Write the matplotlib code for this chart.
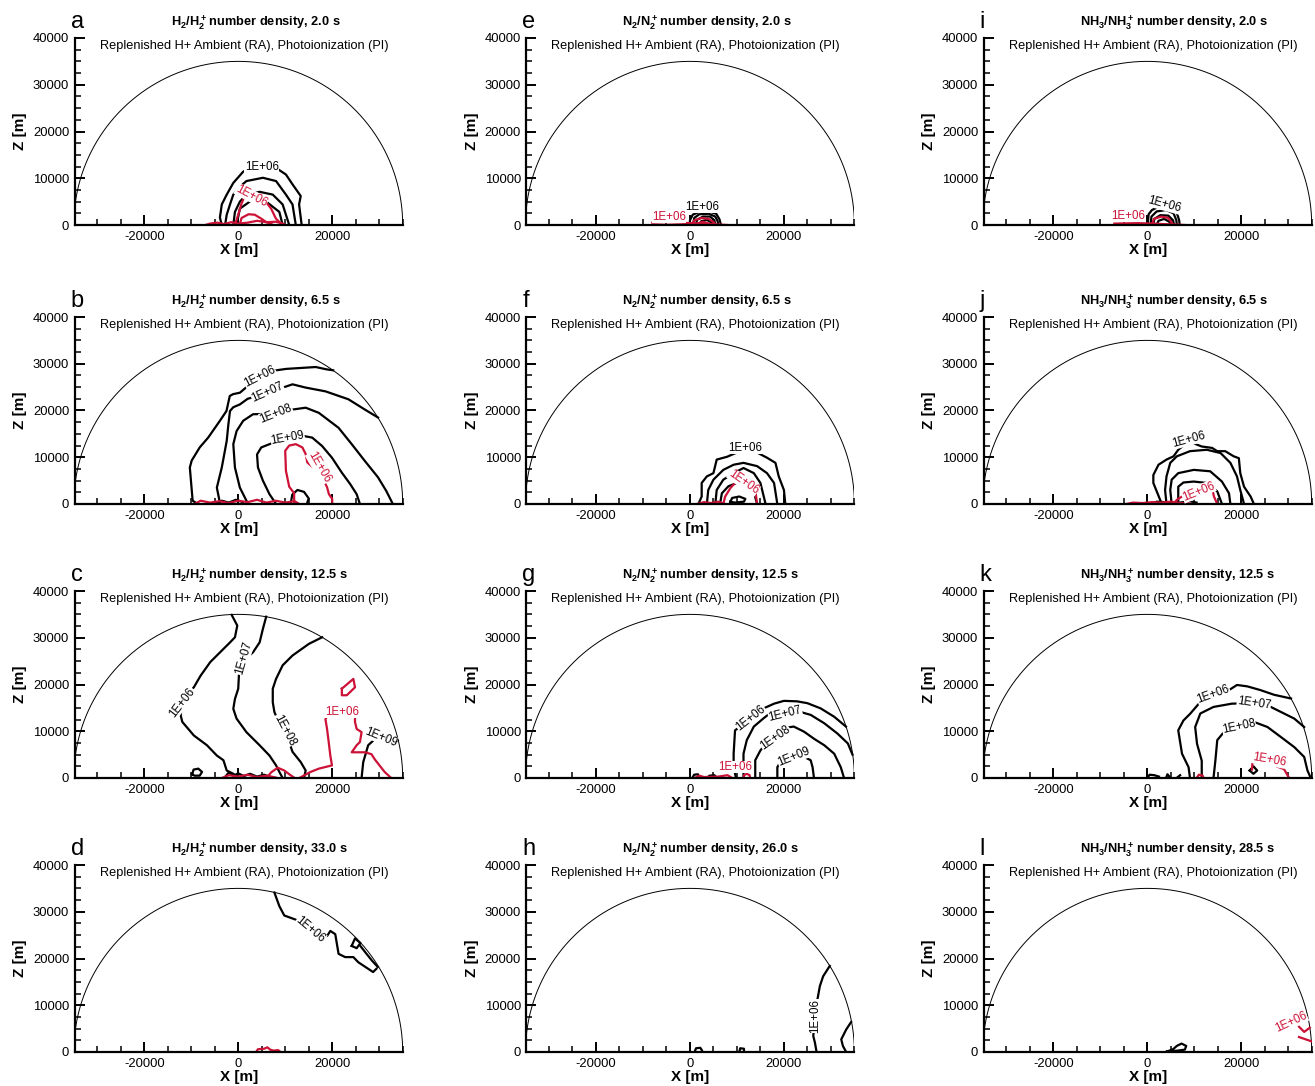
import numpy as np
import matplotlib
matplotlib.use("Agg")
import matplotlib.pyplot as plt
from matplotlib.ticker import MultipleLocator

plt.rcParams["font.family"] = ["Liberation Sans", "DejaVu Sans"]
plt.rcParams["mathtext.fontset"] = "custom"
plt.rcParams["mathtext.rm"] = "Liberation Sans"
plt.rcParams["mathtext.bf"] = "Liberation Sans:bold"
plt.rcParams["mathtext.it"] = "Liberation Sans:italic"
plt.rcParams["axes.unicode_minus"] = False

# ---------------- data (x [m], z [m]) ----------------
DOMAIN_RADIUS = 35000
species = ["H2", "N2", "NH3"]
times = {"H2": ["2.0", "6.5", "12.5", "33.0"],
         "N2": ["2.0", "6.5", "12.5", "26.0"],
         "NH3": ["2.0", "6.5", "12.5", "28.5"]}
subtitle = "Replenished H+ Ambient (RA), Photoionization (PI)"
panel_letters = ["a", "b", "c", "d", "e", "f", "g", "h", "i", "j", "k", "l"]

# panel a : H2, 2.0 s
a_black = [
    [(-3500, 0), (-3900, 1600), (-3500, 4400), (-2450, 6500), (-1050, 9000), (1050, 11400), (2500, 12200),
     (5000, 12300), (8050, 12200), (10150, 10800), (11550, 8700), (13300, 6200), (12950, 4400), (13500, 0)],
    [(-2800, 0), (-2450, 2200), (-1750, 4400), (-1050, 6500), (350, 8200), (1750, 9400), (5250, 10100),
     (8050, 9400), (10150, 6500), (11550, 4400), (12250, 0)],
    [(-1050, 0), (-700, 2800), (350, 5000), (1750, 6500), (4550, 7100), (7350, 6500), (9450, 4400), (10850, 0)],
    [(-350, 0), (350, 3500), (2450, 5000), (5950, 5000), (8750, 2800), (9450, 0)],
]
a_red = [
    [(-700, 0), (0, 2200), (700, 4600), (1400, 6200), (2800, 6400), (4500, 6000), (5600, 5300), (7000, 3500),
     (8000, 1400), (9000, 400), (9500, 0)],
    [(300, 0), (700, 1500), (2200, 2300), (3500, 2200), (5000, 1300), (6000, 600), (7500, 0)],
    [(-7000, 0), (-6000, 300), (-4500, 500), (-3000, 200), (-1500, 600), (0, 300), (2000, 500), (4000, 900),
     (6000, 600), (8000, 700), (9500, 300), (10000, 0)],
]
a_black_labels = [("1E+06", 5000, 12300, 0)]
a_red_labels = [("1E+06", 2800, 6200, -28)]

# panel b : H2, 6.5 s
b_black = [
    [(-8600, 0), (-9700, 700), (-10300, 7800), (-9900, 9300), (-8200, 12100), (-6400, 14200), (-3900, 17800),
     (-2500, 19900), (-1800, 23100), (-1100, 23500), (350, 23800), (1750, 25000), (4550, 27300), (7400, 28500),
     (10200, 28900), (16500, 29300), (18800, 28800), (20200, 28600)],
    [(-3850, 0), (-4550, 3500), (-3500, 7800), (-2450, 13500), (-2100, 17000), (-1750, 19900), (-1050, 20700),
     (350, 21300), (2000, 22500), (6300, 23800), (11550, 25600), (14350, 24900), (18550, 24100), (23450, 22400),
     (26950, 20200), (29750, 18500)],
    [(2100, 0), (350, 3500), (-700, 7800), (-1050, 12800), (-350, 15600), (1050, 17800), (3150, 19200),
     (8050, 19300), (11550, 20200), (14350, 20600), (17150, 19500), (21350, 16300), (24150, 12800),
     (26950, 9200), (29750, 5700), (31500, 2800), (32900, 0)],
    [(8050, 0), (6650, 2100), (5250, 5000), (4200, 7800), (4000, 10600), (4900, 12100), (6650, 12800),
     (10500, 14200), (13650, 14600), (15750, 14200), (17850, 12400), (19950, 9900), (22050, 6700),
     (23800, 4300), (25200, 2100), (25900, 0)],
    [(11200, 300), (11500, 2000), (12600, 3000), (14000, 2600), (15000, 1200), (14700, 300)],
    [(-5000, 200), (-3500, 700), (-2000, 300), (-500, 900), (1000, 400)],
]
b_red = [
    [(11900, 0), (11900, 2300), (10850, 3700), (10150, 7100), (10000, 11400), (10850, 12500), (12250, 12800),
     (13650, 12100), (14350, 10700), (14700, 8900), (16500, 7300), (18200, 5000), (18900, 3600), (19300, 2100),
     (20000, 1100), (20000, 0)],
    [(-9300, 0), (-8000, 700), (-6000, 300), (-4000, 600), (-2000, 200), (0, 700), (2000, 400), (4000, 900),
     (6000, 300), (8000, 700), (10000, 300), (12000, 600), (13000, 0)],
]
b_black_labels = [("1E+06", 4550, 27300, 27), ("1E+07", 6300, 23800, 24),
                  ("1E+08", 8050, 19300, 22), ("1E+09", 10500, 14200, 10)]
b_red_labels = [("1E+06", 17150, 7800, -60)]

# panel c : H2, 12.5 s
c_black = [
    [(-1400, 34900), (-200, 32600), (-700, 30100), (-1750, 29000), (-3850, 26900), (-5950, 24800),
     (-8000, 21900), (-9450, 19400), (-11200, 17400), (-11900, 16400), (-12250, 13400), (-11900, 12000),
     (-9450, 9100), (-6650, 7000), (-4550, 4800), (-3150, 3800), (-2800, 2700), (-2450, 1600), (-1050, 900), (0, 0)],
    [(5950, 34500), (5250, 31900), (4550, 29000), (3150, 26900), (1750, 25600), (700, 24200), (200, 23000),
     (0, 19100), (-700, 16900), (-1050, 14800), (-350, 12700), (1750, 9800), (4550, 7000), (6650, 4800),
     (8050, 2700), (8750, 1300), (9450, 0)],
    [(17850, 30100), (15050, 28700), (11550, 26200), (9450, 24100), (8050, 21200), (7350, 19100),
     (7350, 16200), (7700, 14100), (8800, 11500), (9800, 9800), (10900, 7500), (11550, 5600), (13300, 3400),
     (14350, 1600), (14000, 0)],
    [(26250, 0), (26600, 3400), (27650, 7000), (29050, 8300), (30500, 8700), (32550, 7400), (33950, 8100)],
    [(-9800, 800), (-9500, 1800), (-8500, 2000), (-7700, 1300), (-8200, 500), (-9300, 500), (-9800, 800)],
    [(-2800, 200), (-2000, 1200), (-1000, 500), (0, 1000), (1200, 400), (2500, 900), (4000, 300), (5500, 700),
     (7000, 200)],
]
c_red = [
    [(22050, 19100), (24500, 21200), (24850, 19400), (23100, 17700), (22050, 17700), (22050, 19100)],
    [(13000, 0), (15400, 1300), (17150, 2000), (19950, 2700), (19600, 4800), (19250, 7700), (18900, 10500),
     (18550, 12600), (19300, 13700), (22050, 13900), (24850, 13400), (24850, 12000), (25200, 10500),
     (26250, 9800), (25900, 7700), (25200, 7000), (24150, 5500), (26950, 5500), (28350, 5100), (29050, 4000),
     (31150, 1300), (32550, 0)],
    [(6000, 0), (7000, 1200), (8400, 2200), (9800, 1600), (11000, 700), (12000, 0)],
    [(-3500, 0), (-2000, 600), (0, 300), (2000, 700), (4000, 200), (6000, 500), (8000, 100)],
]
c_black_labels = [("1E+06", -11900, 16200, 52), ("1E+07", 1200, 25600, 74),
                  ("1E+08", 9800, 10200, -62), ("1E+09", 30300, 8700, -22)]
c_red_labels = [("1E+06", 22050, 14100, 0)]

# panel d : H2, 33.0 s
d_black = [
    [(7700, 34100), (8750, 31200), (9800, 29200), (12250, 28300), (15400, 26200), (18900, 24800),
     (19600, 25900), (20650, 25200), (21000, 23100), (21350, 21000), (22750, 20300), (24500, 20300),
     (25550, 19200), (27650, 17800), (28700, 17100), (29400, 17800)],
    [(24150, 22700), (24850, 24300), (26000, 23300), (25200, 22200), (24150, 22700)],
    [(25900, 22800), (27300, 21000), (28500, 19500), (29700, 18200)],
]
d_red = [
    [(3800, 0), (4200, 600), (5500, 700), (6200, 1000), (6800, 500), (7500, 300), (8500, 400), (9000, 0)],
]
d_black_labels = [("1E+06", 15400, 26200, -40)]
d_red_labels = []

# panel e : N2, 2.0 s
e_black = [
    [(0, 0), (0, 1000), (600, 2200), (2000, 2800), (4000, 2900), (5600, 2400), (6300, 1200), (6600, 0)],
    [(700, 0), (900, 1500), (2000, 2300), (4000, 2400), (5400, 1800), (5900, 800), (6000, 0)],
    [(1300, 0), (1500, 1100), (2800, 1800), (4300, 1800), (5200, 1000), (5400, 0)],
    [(2000, 0), (2400, 800), (3600, 1100), (4500, 600), (4800, 0)],
]
e_red = [
    [(300, 0), (900, 1000), (2500, 1500), (4000, 1300), (5000, 600), (5600, 0)],
    [(1500, 300), (2800, 700), (4000, 300)],
    [(-8000, 500), (-5000, 600), (-2000, 500), (0, 400), (3000, 300), (6000, 100), (8000, 0)],
]
e_black_labels = [("1E+06", 2700, 3900, 0)]
e_red_labels = [("1E+06", -4500, 1700, 0)]

# panel f : N2, 6.5 s
f_black = [
    [(1800, 0), (2500, 1600), (2500, 4500), (3600, 5900), (5000, 6600), (5700, 9500), (7900, 10100),
     (9500, 10800), (11800, 11600), (14300, 11000), (16400, 9900), (18200, 8800), (18900, 5900),
     (20000, 3000), (20300, 0)],
    [(3600, 0), (3900, 3000), (5000, 5200), (7100, 7300), (9300, 8400), (11400, 8800), (14300, 8100),
     (16400, 6600), (17900, 4500), (18600, 0)],
    [(5400, 0), (5700, 3000), (7100, 5200), (9300, 6600), (11400, 7700), (13600, 6600), (15000, 4500), (16100, 0)],
    [(6400, 0), (6800, 2300), (8200, 3800), (10000, 4500), (12500, 4000), (13600, 2500), (14300, 0)],
    [(8600, 500), (9000, 1300), (10500, 1600), (11800, 1100), (11500, 500), (9500, 300), (8600, 500)],
]
f_red = [
    [(7100, 0), (7500, 1600), (8600, 3400), (9600, 4500), (11400, 4800), (13200, 4100), (13900, 3000), (14300, 0)],
    [(1500, 0), (3000, 400), (4500, 200), (6000, 500), (7500, 0)],
]
f_black_labels = [("1E+06", 11800, 12000, 0)]
f_red_labels = [("1E+06", 11400, 4700, -35)]

# panel g : N2, 12.5 s
g_black = [
    [(9800, 0), (9300, 2300), (9300, 5200), (9600, 10200), (10700, 11000), (13000, 12800), (15700, 14900),
     (17900, 15900), (20000, 16500), (22800, 16400), (25000, 16000), (27800, 14900), (30700, 13100), (33200, 11000)],
    [(11400, 0), (11400, 5200), (12100, 8100), (13600, 11000), (15700, 12800), (17100, 13900), (20300, 14300),
     (23600, 14100), (25700, 13500), (28600, 11700), (31400, 9500), (33600, 7400), (34600, 5000)],
    [(13900, 0), (13900, 3800), (15000, 5900), (16100, 7300), (18200, 8800), (20700, 10800), (22100, 11000),
     (24300, 9900), (26400, 8400), (28600, 7000), (30700, 5200), (32100, 2300), (32800, 0)],
    [(18600, 0), (18600, 2300), (19000, 3000), (22100, 4300), (24300, 4500), (25700, 3800), (26100, 2300), (26400, 0)],
    [(500, 0), (900, 700), (1700, 800), (2000, 0)],
    [(3500, 0), (4200, 500), (5200, 600), (5800, 0)],
]
g_red = [
    [(11400, 0), (11500, 600), (12100, 900), (12700, 600), (12800, 0)],
    [(1000, 0), (2000, 500), (3000, 200), (6000, 300), (8000, 600), (9000, 0)],
]
g_black_labels = [("1E+06", 13000, 12800, 38), ("1E+07", 20300, 13600, 14),
                  ("1E+08", 18200, 8600, 35), ("1E+09", 22100, 4500, 22)]
g_red_labels = [("1E+06", 9600, 2300, 0)]

# panel h : N2, 26.0 s
h_black = [
    [(29750, 18400), (28350, 16200), (27650, 14100), (27000, 10500), (26600, 7700), (26250, 3400),
     (26600, 2000), (26950, 0)],
    [(34300, 6400), (33250, 4800), (32200, 2700), (32550, 1300), (33250, 0)],
    [(1000, 0), (1300, 800), (2200, 900), (2600, 300), (2400, 0)],
    [(10500, 0), (10700, 800), (11500, 700), (11500, 0)],
]
h_red = []
h_black_labels = [("1E+06", 26600, 7700, 90)]
h_red_labels = []

# panel i : NH3, 2.0 s
i_black = [
    [(100, 0), (300, 2300), (1000, 3200), (1800, 3600), (3700, 4300), (5600, 3500), (6300, 2600),
     (6800, 1000), (6900, 0)],
    [(700, 0), (900, 1800), (2000, 2900), (4000, 3200), (5600, 2500), (6200, 1000), (6300, 0)],
    [(1300, 0), (1500, 1300), (2800, 2100), (4500, 2000), (5500, 1000), (5700, 0)],
    [(2000, 0), (2400, 900), (3600, 1300), (4700, 700), (5000, 0)],
]
i_red = [
    [(1000, 0), (1400, 1300), (3000, 1800), (4500, 1500), (5200, 500), (5500, 0)],
    [(-7000, 300), (-2000, 400), (1000, 300), (6000, 100), (8000, 0)],
]
i_black_labels = [("1E+06", 3700, 4400, -15)]
i_red_labels = [("1E+06", -4000, 1900, 0)]

# panel j : NH3, 6.5 s
j_black = [
    [(3100, 0), (1300, 4500), (1300, 6200), (2400, 8400), (4100, 9500), (5600, 10200), (6600, 11600),
     (8800, 13400), (11600, 12300), (13800, 12000), (14900, 11300), (16600, 11300), (18400, 10200),
     (19500, 9800), (19800, 6600), (20600, 3700), (22000, 1600), (22700, 0)],
    [(4100, 0), (3800, 3000), (4100, 5900), (4900, 8800), (6300, 10200), (9100, 11300), (12700, 11600),
     (15600, 10900), (17700, 8800), (19100, 5900), (19800, 3000), (20600, 0)],
    [(5200, 0), (4900, 3000), (5200, 5200), (6600, 6600), (9900, 7300), (13400, 7000), (15900, 4800),
     (17400, 2300), (17700, 0)],
    [(6600, 0), (6600, 3700), (7700, 4600), (9900, 4800), (12700, 4500), (14900, 2700), (15900, 0)],
    [(1000, 0), (2000, 500), (3500, 400), (5000, 200), (7000, 300), (9000, 600), (10500, 300)],
]
j_red = [
    [(5600, 0), (6300, 900), (7400, 1600), (8400, 1600), (11000, 2700), (13800, 3400), (14200, 1600), (14900, 0)],
    [(-4500, 0), (-3000, 300), (-1000, 200), (1000, 400), (3000, 300), (5000, 500), (7000, 200), (9000, 100)],
]
j_black_labels = [("1E+06", 8800, 13800, 15)]
j_red_labels = [("1E+06", 10900, 2700, 22)]

# panel k : NH3, 12.5 s
k_black = [
    [(9100, 0), (8800, 2300), (7400, 5200), (6600, 10200), (7700, 12300), (9100, 13700), (10900, 15800),
     (14100, 17800), (17400, 18800), (19100, 19900), (21300, 19600), (24100, 18800), (27000, 17800), (30600, 17000)],
    [(11600, 0), (11600, 3700), (10600, 7300), (10200, 10900), (11300, 13800), (14100, 15200), (18000, 15900),
     (22700, 16000), (26300, 15200), (29100, 13800), (31300, 12700), (33400, 10900)],
    [(14100, 0), (14500, 3700), (14900, 8100), (16300, 9800), (19500, 11100), (22700, 12000), (25600, 10900),
     (28400, 8800), (31300, 6600), (33400, 4500), (34100, 1600), (34800, 0)],
    [(21800, 1600), (22600, 2500), (23400, 1600), (22600, 900), (21800, 1600)],
    [(0, 0), (500, 700), (1500, 600), (2500, 300)],
    [(4000, 0), (4300, 800), (4800, 200)],
    [(6500, 200), (7000, 600)],
]
k_red = [
    [(22300, 1800), (22400, 3500), (24000, 3700), (26000, 3300), (27500, 2500), (29100, 1900), (30200, 0)],
    [(10500, 0), (11000, 700), (11800, 500), (12000, 0)],
]
k_black_labels = [("1E+06", 14100, 17800, 20), ("1E+07", 22700, 16000, -8), ("1E+08", 19500, 11100, 12)]
k_red_labels = [("1E+06", 25900, 3900, -10)]

# panel l : NH3, 28.5 s
l_black = [
    [(4200, 100), (5500, 600), (6300, 1300), (7300, 1800), (8300, 1300), (8000, 500), (6500, 300), (4200, 100)],
]
l_red = [
    [(32300, 5400), (33400, 4300), (34600, 5200)],
    [(32300, 3200), (34900, 2300)],
]
l_black_labels = []
l_red_labels = [("1E+06", 30600, 6400, 25)]

# ---------------- figure ----------------
W, H = 1315, 1086
fig = plt.figure(figsize=(W / 100, H / 100), dpi=100)

XMIN, XMAX = -34800, 35000
col_left = [74.7, 526.4, 983.7]
ax_w = 328.0
row_bottom = [225, 504, 778, 1052]
ax_h = 187.0

BLACK = "black"
RED = "#cc1236"

formula = {"H2": r"$\mathbf{H_2/H_2^+}\!$", "N2": r"$\mathbf{N_2/N_2^+}\!$",
           "NH3": r"$\mathbf{NH_3/NH_3^+}\!$"}

panels = [
    (a_black, a_red, a_black_labels, a_red_labels), (b_black, b_red, b_black_labels, b_red_labels),
    (c_black, c_red, c_black_labels, c_red_labels), (d_black, d_red, d_black_labels, d_red_labels),
    (e_black, e_red, e_black_labels, e_red_labels), (f_black, f_red, f_black_labels, f_red_labels),
    (g_black, g_red, g_black_labels, g_red_labels), (h_black, h_red, h_black_labels, h_red_labels),
    (i_black, i_red, i_black_labels, i_red_labels), (j_black, j_red, j_black_labels, j_red_labels),
    (k_black, k_red, k_black_labels, k_red_labels), (l_black, l_red, l_black_labels, l_red_labels),
]

theta = np.linspace(0, np.pi, 600)

for idx, (blk, red, blab, rlab) in enumerate(panels):
    col, row = idx // 4, idx % 4
    sp = species[col]
    left = col_left[col] / W
    bottom = 1 - row_bottom[row] / H
    ax = fig.add_axes([left, bottom, ax_w / W, ax_h / H])
    ax.set_xlim(XMIN, XMAX)
    ax.set_ylim(0, 40000)
    for s in ["top", "right"]:
        ax.spines[s].set_visible(False)
    for s in ["left", "bottom"]:
        ax.spines[s].set_linewidth(1.6)
    ax.xaxis.set_major_locator(MultipleLocator(20000))
    ax.xaxis.set_minor_locator(MultipleLocator(5000))
    ax.yaxis.set_major_locator(MultipleLocator(10000))
    ax.yaxis.set_minor_locator(MultipleLocator(2500))
    ax.tick_params(which="both", direction="in", top=False, right=False)
    ax.tick_params(which="major", length=7.5, width=1.4, labelsize=9.4, pad=4)
    ax.tick_params(which="minor", length=4, width=1.1)

    ax.plot(DOMAIN_RADIUS * np.cos(theta), DOMAIN_RADIUS * np.sin(theta), color="black", lw=0.7)

    for line in blk:
        xs, zs = zip(*line)
        ax.plot(xs, zs, color=BLACK, lw=1.6)
    for line in red:
        xs, zs = zip(*line)
        ax.plot(xs, zs, color=RED, lw=1.6)
    for (txt, x, z, rot) in blab:
        ax.text(x, z, txt, rotation=rot, rotation_mode="anchor", ha="center", va="center",
                fontsize=8.3, color=BLACK, zorder=5,
                bbox=dict(facecolor="white", edgecolor="none", pad=0.2))
    for (txt, x, z, rot) in rlab:
        ax.text(x, z, txt, rotation=rot, rotation_mode="anchor", ha="center", va="center",
                fontsize=8.3, color=RED, zorder=5,
                bbox=dict(facecolor="white", edgecolor="none", pad=0.2))

    ax.set_xlabel("X [m]", fontsize=11, fontweight="bold", labelpad=0)
    ax.set_ylabel("Z [m]", fontsize=11, fontweight="bold", labelpad=4)

    ax.text(-14400, 43400, formula[sp] + " number density, " + times[sp][row] + " s",
            fontsize=9.2, fontweight="bold", ha="left", va="center", clip_on=False)
    ax.text(-29500, 38300, subtitle, fontsize=9.2, ha="left", va="center")
    ax.text(-0.012, 1.053, panel_letters[idx], transform=ax.transAxes, fontsize=17,
            ha="left", va="baseline")

fig.savefig("out.png", dpi=100)
